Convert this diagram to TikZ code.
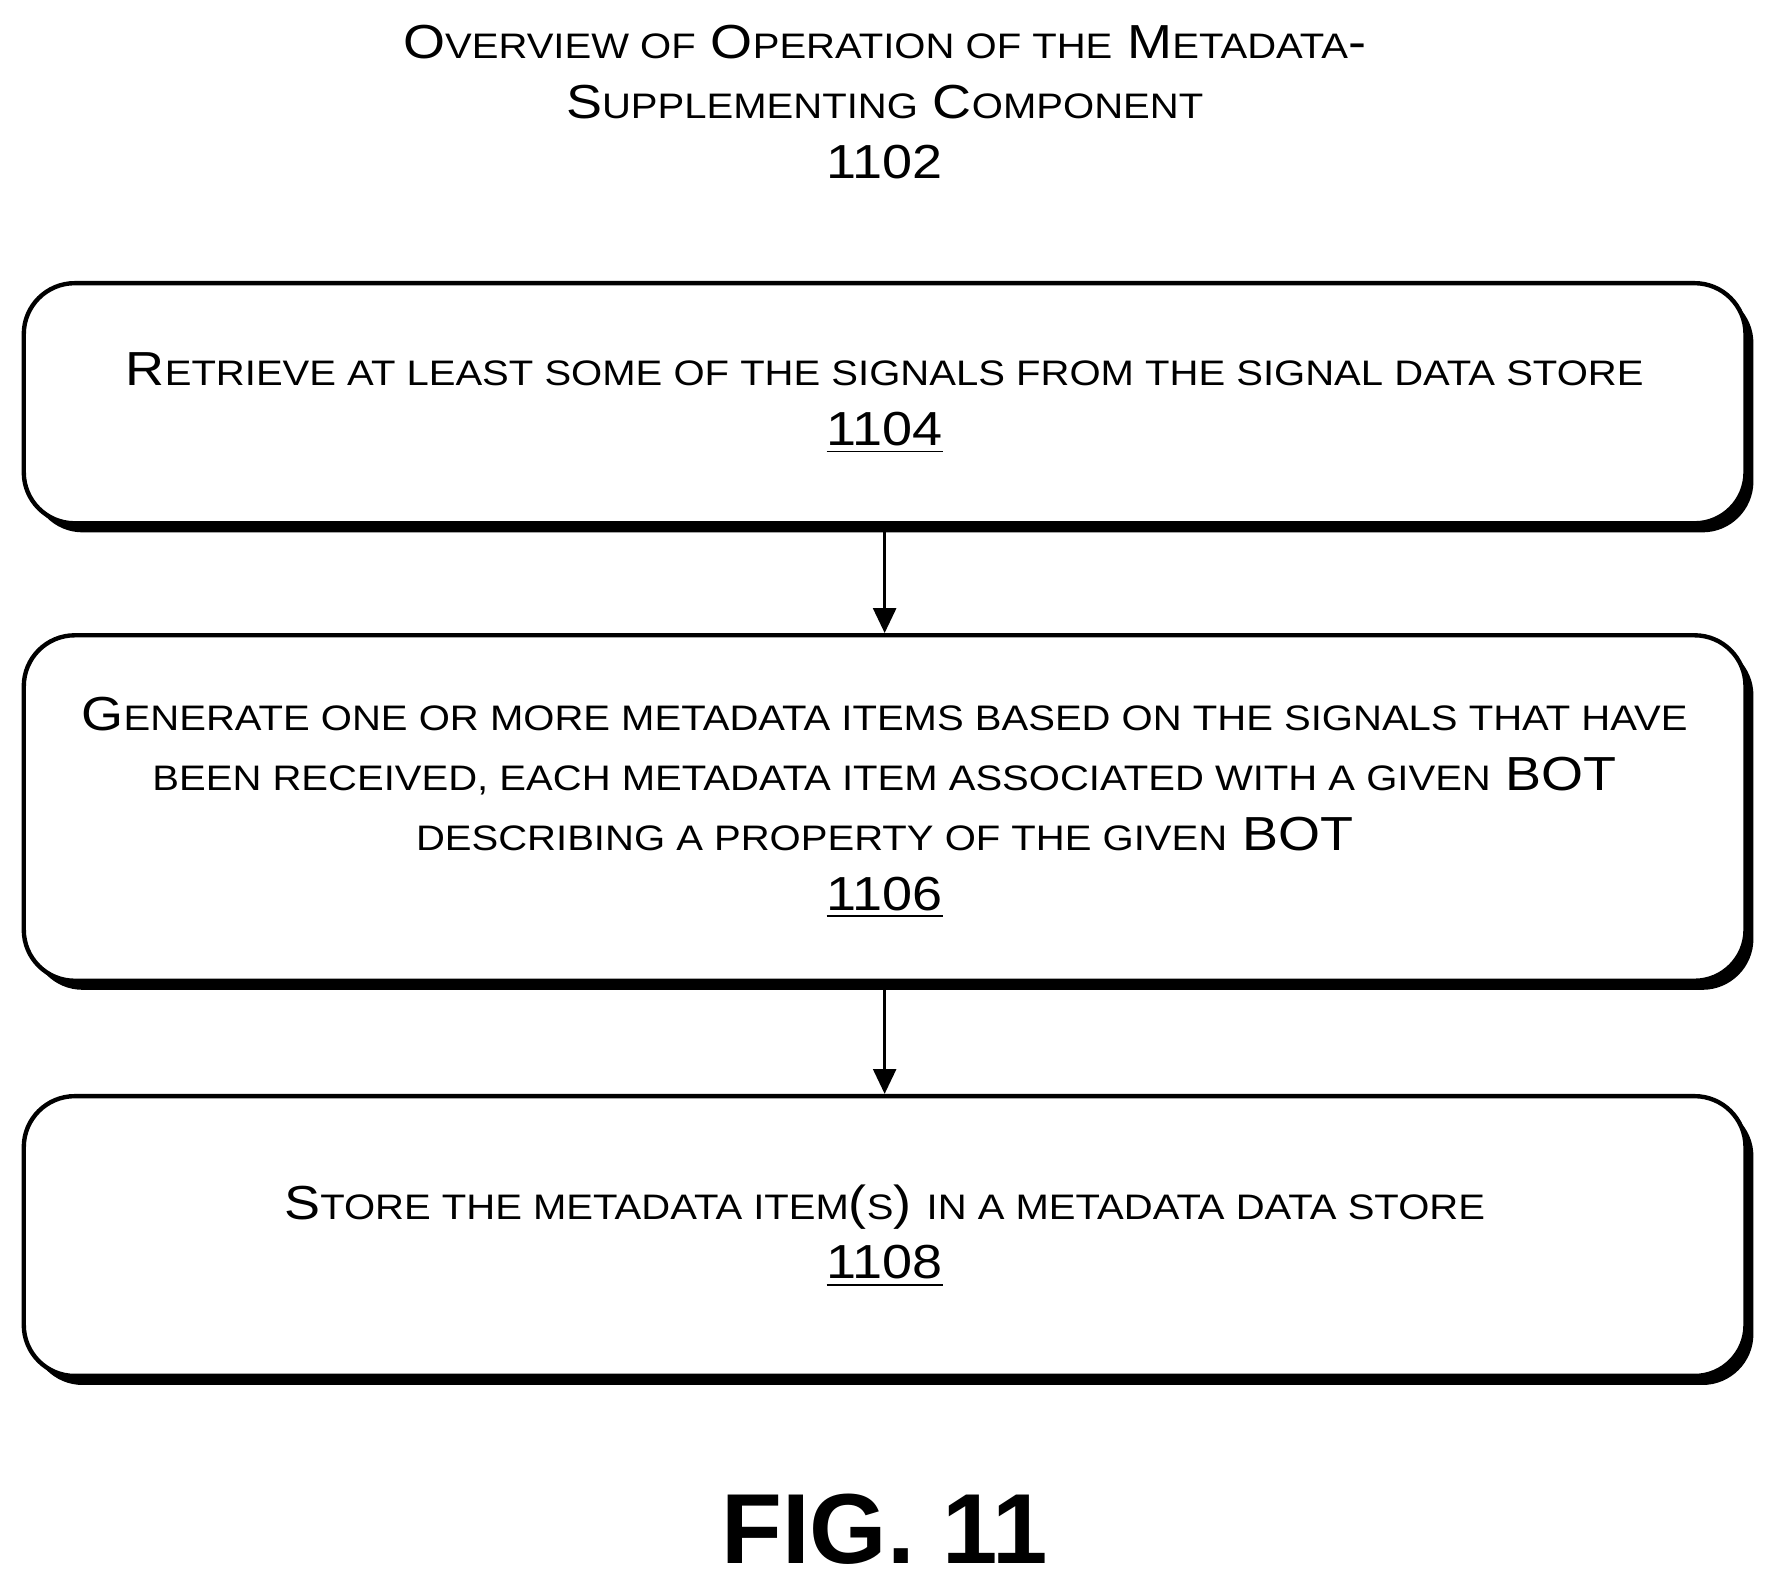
\documentclass[tikz,border=0pt]{standalone}
\usepackage{fontspec}
\setmainfont{Liberation Sans}[FakeStretch=1.13]
\newfontfamily\figfont{Liberation Sans}
\usetikzlibrary{positioning, shadows, arrows.meta}
\newcommand\sml[1]{{\fontsize{8.9}{15}\selectfont #1}}
\tikzset{
>={Triangle[length=0.22cm, width=0.2cm]}, % arrow heads
stepbox/.style={draw, line width=1.1pt, rounded corners=0.45cm, fill=white,
  minimum width=15.2cm, align=center, font=\fontsize{12}{15}\selectfont,
  drop shadow={shadow xshift=0.07cm, shadow yshift=-0.08cm, opacity=1, fill=black}},
flow/.style={->, line width=0.9pt},
}
\begin{document}
\begin{tikzpicture}
\useasboundingbox (0,0) rectangle (15.6,-13.98);

\node[align=center, font=\fontsize{12}{15}\selectfont] (title) at (7.81,-0.9)
  {O\sml{VERVIEW OF} O\sml{PERATION OF THE} M\sml{ETADATA}-\\
   S\sml{UPPLEMENTING} C\sml{OMPONENT}\\ 1102};

\node[stepbox, minimum height=2.12cm] (retrieve) at (7.81,-3.56)
  {R\sml{ETRIEVE AT LEAST SOME OF THE SIGNALS FROM THE SIGNAL DATA STORE}\\
   \underline{1104}};
\node[stepbox, minimum height=3.05cm, below=0.95cm of retrieve] (generate)
  {G\sml{ENERATE ONE OR MORE METADATA ITEMS BASED ON THE SIGNALS THAT HAVE}\\
   \sml{BEEN RECEIVED, EACH METADATA ITEM ASSOCIATED WITH A GIVEN} BOT\\
   \sml{DESCRIBING A PROPERTY OF THE GIVEN} BOT\\
   \underline{1106}};
\node[stepbox, minimum height=2.47cm, below=0.98cm of generate] (store)
  {S\sml{TORE THE METADATA ITEM}(\sml{S}) \sml{IN A METADATA DATA STORE}\\
   \underline{1108}};

\node[font=\figfont\bfseries\fontsize{25}{28}\selectfont] (fig) at (7.81,-13.5) {FIG. 11};

\draw[flow] (retrieve) -- (generate);
\draw[flow] (generate) -- (store);
\end{tikzpicture}
\end{document}
